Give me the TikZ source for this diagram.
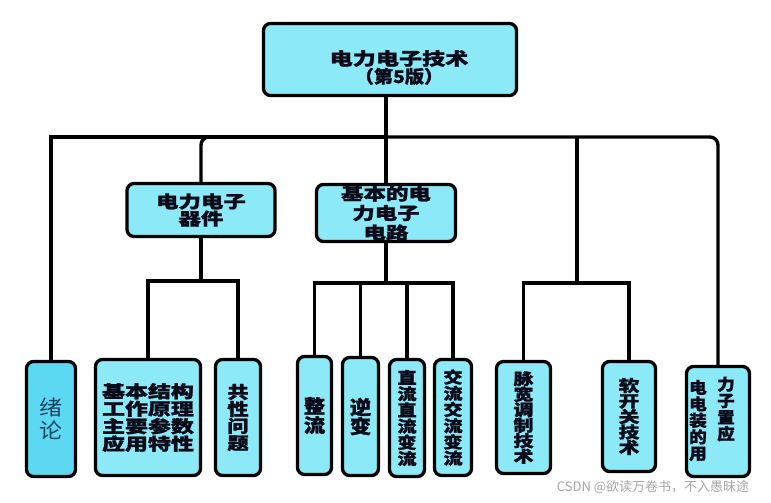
\documentclass[tikz,border=0pt]{standalone}
\usepackage{fontspec}
\setmainfont{Noto Sans CJK SC}[BoldFeatures={FakeBold=1.2}]
\usepackage{graphicx}
\usetikzlibrary{backgrounds}
\definecolor{boxc}{RGB}{140,233,248}
\definecolor{boxd}{RGB}{92,216,242}
\definecolor{txt}{RGB}{10,10,25}
\definecolor{tealtxt}{RGB}{25,70,100}
\definecolor{wmgray}{RGB}{165,165,165}
\newcommand{\sx}[2]{\scalebox{#1}[1]{#2}}
\begin{document}
\begin{tikzpicture}[x=1pt,y=-1pt,
  box/.style={draw=black, line width=3.3pt, rounded corners=7pt, fill=boxc, inner sep=0pt, align=center, text=txt},
  conn/.style={draw=black, line width=3.4pt},
  lbl/.style={align=center, inner sep=0pt, text=txt}]
\useasboundingbox (0,0) rectangle (771,503);
% top
\node[box, minimum width=253, minimum height=72] (top) at (390,59.5) {};
\node[lbl, font=\bfseries\fontsize{17.5}{15.5}\selectfont] (tt) at (399,67.5) {\sx{1.32}{电力电子技术}\\\sx{1.1}{（第5版）}};
% middle
\node[box, minimum width=148, minimum height=53, font=\bfseries\fontsize{17}{15}\selectfont] (q) at (201,210) {\sx{1.32}{电力电子}\\\sx{1.32}{器件}};
\node[box, minimum width=139, minimum height=57, font=\bfseries\fontsize{17}{19.5}\selectfont] (c) at (386,213) {\sx{1.32}{基本的电}\\\sx{1.32}{力电子}\\\sx{1.32}{电路}};
% bottom
\node[box, fill=boxd, text=tealtxt, minimum width=49, minimum height=115, font=\fontsize{21}{23}\selectfont] (xl) at (51,419) {\sx{1.1}{绪}\\\sx{1.1}{论}};
\node[box, minimum width=105, minimum height=116, font=\bfseries\fontsize{17}{17.5}\selectfont] (b1) at (148,417.5) {\sx{1.35}{基本结构}\\\sx{1.35}{工作原理}\\\sx{1.35}{主要参数}\\\sx{1.35}{应用特性}};
\node[box, minimum width=45, minimum height=116, font=\bfseries\fontsize{17}{17}\selectfont] (b2) at (238,417.5) {\sx{1.25}{共}\\\sx{1.25}{性}\\\sx{1.25}{问}\\\sx{1.25}{题}};
\node[box, minimum width=34, minimum height=118, font=\bfseries\fontsize{19}{19}\selectfont] (r1) at (314.5,415.5) {\sx{1.12}{整}\\\sx{1.12}{流}};
\node[box, minimum width=36, minimum height=118, font=\bfseries\fontsize{19}{19}\selectfont] (r2) at (360.5,416.5) {\sx{1.12}{逆}\\\sx{1.12}{变}};
\node[box, minimum width=35, minimum height=117, font=\bfseries\fontsize{16}{16.2}\selectfont] (r3) at (407,418) {\sx{1.2}{直}\\\sx{1.2}{流}\\\sx{1.2}{直}\\\sx{1.2}{流}\\\sx{1.2}{变}\\\sx{1.2}{流}};
\node[box, minimum width=37, minimum height=116, font=\bfseries\fontsize{16}{16.2}\selectfont] (r4) at (453,417.5) {\sx{1.2}{交}\\\sx{1.2}{流}\\\sx{1.2}{交}\\\sx{1.2}{流}\\\sx{1.2}{变}\\\sx{1.2}{流}};
\node[box, minimum width=54, minimum height=112, font=\bfseries\fontsize{16}{15.5}\selectfont] (pw) at (523.5,417.5) {\sx{1.25}{脉}\\\sx{1.25}{宽}\\\sx{1.25}{调}\\\sx{1.25}{制}\\\sx{1.25}{技}\\\sx{1.25}{术}};
\node[box, minimum width=53, minimum height=110, font=\bfseries\fontsize{16}{15.5}\selectfont] (sk) at (629,416.5) {\sx{1.3}{软}\\\sx{1.3}{开}\\\sx{1.3}{关}\\\sx{1.3}{技}\\\sx{1.3}{术}};
\node[box, minimum width=63, minimum height=110] (ap) at (718,421.5) {};
\node[lbl, font=\bfseries\fontsize{16}{16.5}\selectfont] (apl) at (698,420.5) {\sx{1.1}{电}\\\sx{1.1}{电}\\\sx{1.1}{装}\\\sx{1.1}{的}\\\sx{1.1}{用}};
\node[lbl, font=\bfseries\fontsize{16}{16.5}\selectfont] (apr) at (726,409) {\sx{1.1}{力}\\\sx{1.1}{子}\\\sx{1.1}{置}\\\sx{1.1}{应}};
% watermark
\node[inner sep=0pt, text=wmgray, font=\fontsize{13}{14}\selectfont] (wm) at (653,487) {CSDN @欲读万卷书，不入愚昧途};
% connectors
\begin{pgfonlayer}{background}
\fill[white] (0,0) rectangle (771,503);
\coordinate (jt) at (386,137);
\coordinate (js) at (577,137);
\coordinate (jp) at (577,283);
\coordinate (jq) at (201,281);
\coordinate (jc) at (386,283);
\draw[conn] (top.south -| c.north) -- (c.north);
\draw[conn] (xl.north) |- (jt);
\draw[conn, rounded corners=8pt] (jt) -| (ap.north);
\draw[conn, rounded corners=8pt] (q.north) |- (jt);
\draw[conn] (js) -- (jp);
\draw[conn] (pw.north) |- (jp) -| (sk.north);
\draw[conn] (q.south) -- (jq);
\draw[conn] (b1.north) |- (jq) -| (b2.north);
\draw[conn] (c.south) -- (jc);
\draw[conn] (r1.north) |- (jc) -| (r4.north);
\draw[conn] (r2.north) -- (r2.north |- jc);
\draw[conn] (r3.north) -- (r3.north |- jc);
\end{pgfonlayer}
\end{tikzpicture}
\end{document}
